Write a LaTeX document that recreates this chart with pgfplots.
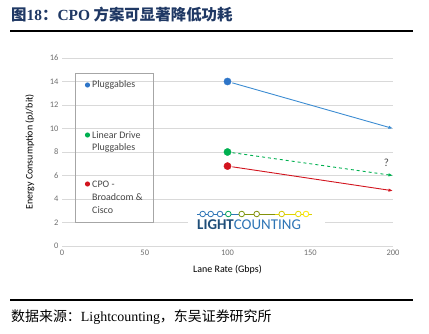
\documentclass[border=0pt]{standalone}
\usepackage{fontspec}
\setmainfont{Carlito}
\newfontfamily\cjk{Noto Sans CJK SC}
\newfontfamily\serif{Liberation Serif}
\usepackage{pgfplots}
\pgfplotsset{compat=1.18}
\usetikzlibrary{arrows.meta}
\definecolor{titleblue}{RGB}{31,56,100}
\definecolor{pblue}{RGB}{46,117,200}
\definecolor{lblue}{RGB}{60,140,210}
\definecolor{pgreen}{RGB}{0,176,80}
\definecolor{pred}{RGB}{210,20,30}
\definecolor{tickgray}{RGB}{110,110,110}
\definecolor{txtgray}{RGB}{70,70,70}
\definecolor{logodark}{RGB}{31,78,121}
\definecolor{logoblue}{RGB}{46,117,182}
\begin{document}
\begin{tikzpicture}[x=1bp,y=1bp]
\useasboundingbox (0,0) rectangle (429,334);
% title
\node[anchor=west, inner sep=0, text=titleblue, font=\fontsize{15.5}{17}\selectfont\bfseries] at (11,319)
  {{\cjk 图}{\serif 18}{\cjk ：}{\serif CPO} {\cjk 方案可显著降低功耗}};
\draw[line width=1.4bp] (10,303) -- (413,303);
\draw[line width=1.4bp] (10,34) -- (413,34);
\node[anchor=west, inner sep=0, font=\fontsize{14}{16}\selectfont] at (11,17)
  {{\cjk 数据来源：}{\serif Lightcounting}{\cjk ，东吴证券研究所}};

\begin{axis}[at={(62bp,88bp)}, anchor=south west, scale only axis,
  width=331bp, height=188bp,
  xmin=0, xmax=200, ymin=0, ymax=16,
  xtick={0,50,...,200}, ytick={0,2,...,16},
  /pgf/number format/assume math mode=true,
  axis line style={draw=none}, major tick style={draw=none},
  ymajorgrids, grid style={line width=0.6bp, color=black!15},
  tick label style={font=\fontsize{8.5}{10}\selectfont, text=tickgray},
  label style={font=\fontsize{9}{11}\selectfont, text=txtgray},
  xlabel={Lane Rate (Gbps)}, ylabel={Energy Consumption (pJ/bit)},
  every axis x label/.style={at={(axis description cs:0.5,-0.128)}, anchor=center},
  every axis y label/.style={at={(axis description cs:-0.097,0.5)}, rotate=90, anchor=center},
  clip=false]
\addplot[lblue, line width=0.9bp, -{Latex[length=4.5bp,width=3.5bp]}, shorten <=5bp] coordinates {(100,14) (200,10)};
\addplot[pgreen, line width=0.9bp, dashed, -{Latex[length=4.5bp,width=3.5bp]}, shorten <=5bp] coordinates {(100,8) (200,6)};
\addplot[pred, line width=0.9bp, -{Latex[length=4.5bp,width=3.5bp]}, shorten <=5bp] coordinates {(100,6.8) (200,4.7)};
\addplot[only marks, mark=*, mark size=3.6bp, pblue, mark options={fill=pblue}] coordinates {(100,14)};
\addplot[only marks, mark=*, mark size=3.6bp, pgreen, mark options={fill=pgreen}] coordinates {(100,8)};
\addplot[only marks, mark=*, mark size=3.6bp, pred, mark options={fill=pred}] coordinates {(100,6.8)};
\node[font=\fontsize{11}{12}\selectfont, text=txtgray] at (axis cs:196,7.1) {?};
\end{axis}

% legend box
\draw[color=black!35, line width=0.7bp] (75,261) rectangle (153,112);
\begin{scope}[font=\fontsize{10}{12}\selectfont]
\fill[pblue] (87.5,249) circle (2.6);
\node[anchor=west, inner sep=0, text=txtgray] at (92,249) {Pluggables};
\fill[pgreen] (87.5,199) circle (2.6);
\node[anchor=west, inner sep=0, text=txtgray] at (92,199) {Linear Drive};
\node[anchor=west, inner sep=0, text=txtgray] at (92,186) {Pluggables};
\fill[pred] (87.5,150) circle (2.6);
\node[anchor=west, inner sep=0, text=txtgray] at (92,150) {CPO -};
\node[anchor=west, inner sep=0, text=txtgray] at (92,137) {Broadcom \&};
\node[anchor=west, inner sep=0, text=txtgray] at (92,124) {Cisco};
\end{scope}

% logo
\fill[white] (188,131) rectangle (325,102);
\draw[color=logoblue, line width=0.8bp] (197,120) -- (240,120);
\draw[color=olive!80!green, line width=0.8bp] (240,120) -- (275,120);
\draw[color=yellow!70!olive, line width=0.8bp] (275,120) -- (312,120);
\foreach \x/\c in {202.7/logoblue, 210.7/logoblue, 220/logoblue, 228.3/teal!70!green, 241.7/olive!70!green, 256.7/olive!80!green, 281.7/yellow!60!olive, 298.3/yellow!80!olive, 306/yellow!90!orange}
  \draw[color=\c, fill=white, line width=0.8bp] (\x,120) circle (2.8);
\node[anchor=west, inner sep=0, font=\fontsize{15}{16}\selectfont] at (197,109)
  {\textcolor{logodark}{\bfseries LIGHT}\textcolor{logoblue}{COUNTING}};
\end{tikzpicture}
\end{document}
